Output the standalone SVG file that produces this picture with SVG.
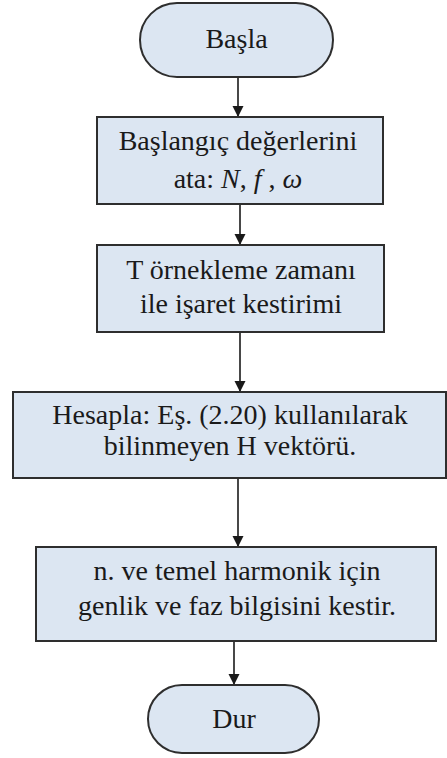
<svg xmlns="http://www.w3.org/2000/svg" width="447" height="758" viewBox="0 0 447 758">
<defs>
<style>
.box{fill:#dce6f2;stroke:#2e2e2e;stroke-width:2}
.t{font-size:28px;fill:#1a1a1a;text-anchor:middle}
.m{font-style:italic}
.c{stroke:#1a1a1a;stroke-width:1.6;fill:none;marker-end:url(#ah)}
</style>
<marker id="ah" viewBox="0 0 10 10" refX="10" refY="5" markerUnits="userSpaceOnUse" markerWidth="11" markerHeight="12" orient="auto">
<path d="M0,0 L10,5 L0,10 Z" fill="#1a1a1a"/>
</marker>
</defs>
<rect width="447" height="758" fill="#ffffff"/>
<g id="connectors">
<line class="c" x1="238" y1="77" x2="238" y2="117"/>
<line class="c" x1="240" y1="204" x2="240" y2="245"/>
<line class="c" x1="240" y1="332" x2="240" y2="392"/>
<line class="c" x1="238" y1="478" x2="238" y2="547"/>
<line class="c" x1="234" y1="641" x2="234" y2="685"/>
</g>
<g font-family="Liberation Serif, DejaVu Serif, serif">
<g id="start">
<rect class="box" x="140" y="3" width="193" height="74" rx="37" ry="37"/>
<text class="t" x="236.5" y="48">Başla</text>
</g>
<g id="init">
<rect class="box" x="97" y="117" width="286" height="87"/>
<text class="t" x="238" y="150">Başlangıç değerlerini</text>
<text class="t" x="238" y="188">ata: <tspan class="m">N</tspan>, <tspan class="m">f</tspan> , <tspan class="m">ω</tspan></text>
</g>
<g id="sample">
<rect class="box" x="97" y="245" width="287" height="87"/>
<text class="t" x="241" y="279">T örnekleme zamanı</text>
<text class="t" x="241" y="313">ile işaret kestirimi</text>
</g>
<g id="compute">
<rect class="box" x="13" y="392" width="433" height="86"/>
<text class="t" x="230" y="424">Hesapla: Eş. (2.20) kullanılarak</text>
<text class="t" x="230" y="455">bilinmeyen H vektörü.</text>
</g>
<g id="estimate">
<rect class="box" x="36" y="547" width="400" height="94"/>
<text class="t" x="237" y="580">n. ve temel harmonik için</text>
<text class="t" x="237" y="615">genlik ve faz bilgisini kestir.</text>
</g>
<g id="stop">
<rect class="box" x="148" y="685" width="171" height="68" rx="34" ry="34"/>
<text class="t" x="234" y="728">Dur</text>
</g>
</g>
</svg>
